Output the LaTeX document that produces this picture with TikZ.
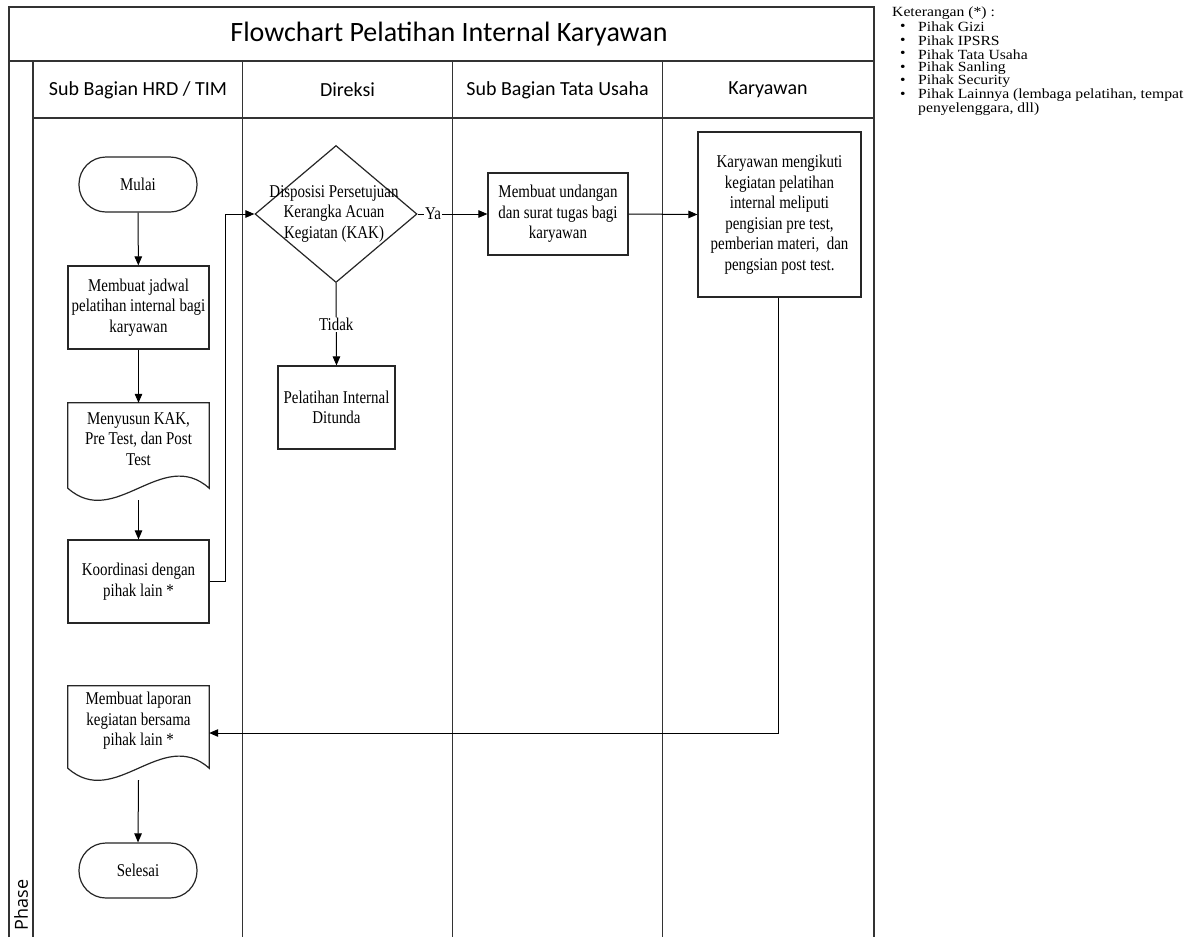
\documentclass[tikz,border=0pt]{standalone}
\usepackage{fontspec}
\setmainfont{Liberation Serif}
\newfontfamily\calfont{Carlito}
\newfontfamily\phasefont{Open Sans}
\newfontfamily\bodyf{Liberation Serif}[FakeStretch=0.83]
\newfontfamily\legf{Liberation Serif}[FakeStretch=1.12]
\usetikzlibrary{arrows.meta,shapes.geometric,calc}
\newcommand\bfnt{\bodyf\fontsize{18}{20.5}\selectfont}
\newcommand\lgfnt{\legf\fontsize{14}{13.7}\selectfont}
\begin{document}
\begin{tikzpicture}[x=1pt,y=-1pt,
  frame/.style={draw=black!80,line width=1.6pt},
  proc/.style={draw=black!85,line width=1.2pt,rectangle,inner sep=0pt,align=center,font=\bfnt},
  term/.style={proc,rounded corners=27pt,minimum width=118pt,minimum height=55pt},
  dec/.style={draw=black!85,line width=1.2pt,diamond,inner sep=0pt,minimum width=162pt,minimum height=137pt},
  docn/.style={rectangle,inner sep=0pt,minimum width=141pt},
  docline/.style={draw=black!85,line width=1.2pt},
  txt/.style={align=center,font=\bfnt,inner sep=0pt},
  lbl/.style={fill=white,font=\bfnt,inner sep=1pt},
  conn/.style={draw=black,line width=1pt,-{Triangle[length=9pt,width=7.5pt]}},
  leg/.style={anchor=west,font=\lgfnt,inner sep=0pt}
]
\useasboundingbox (0,0) rectangle (1198,938);
\fill[white] (0,0) rectangle (1198,938);

% swimlane frame
\draw[frame] (9,937) -- (9,7) -- (874,7) -- (874,937);
\draw[frame] (9,61) -- (874,61);
\draw[frame] (33,61) -- (33,937);
\draw[frame] (33,118) -- (874,118);
\draw[frame] (242.5,61) -- (242.5,937);
\draw[frame] (452.5,61) -- (452.5,937);
\draw[frame] (662.5,61) -- (662.5,937);

\node[font=\calfont\fontsize{28}{30}\selectfont] (title) at (449,34) {Flowchart Pelatihan Internal Karyawan};
\node[font=\calfont\fontsize{20}{22}\selectfont] (h1) at (138,90) {Sub Bagian HRD / TIM};
\node[font=\calfont\fontsize{20}{22}\selectfont] (h2) at (347.5,90) {Direksi};
\node[font=\calfont\fontsize{20}{22}\selectfont] (h3) at (557.5,90) {Sub Bagian Tata Usaha};
\node[font=\calfont\fontsize{20}{22}\selectfont] (h4) at (768,90) {Karyawan};
\node[font=\phasefont\fontsize{18}{20}\selectfont,rotate=90] (phase) at (21,905) {Phase};

% nodes
\node[term] (mulai) at (138,184.5) {Mulai};
\node[proc,minimum width=141pt,minimum height=83pt] (jadwal) at (138.5,307.5) {Membuat jadwal\\pelatihan internal bagi\\karyawan};

\node[docn,minimum height=85pt] (kak) at (138.5,445.5) {};
\draw[docline] (kak.north west) -- (kak.north east) -- (kak.south east)
  .. controls ($(kak.south east)+(-47,-42)$) and ($(kak.south west)+(47,42)$) .. (kak.south west) -- cycle;
\node[txt] (kaktxt) at (138.5,439) {Menyusun KAK,\\Pre Test, dan Post\\Test};

\node[proc,minimum width=141pt,minimum height=83pt] (koord) at (138.5,581.5) {Koordinasi dengan\\pihak lain *};

\node[docn,minimum height=82pt] (lap) at (138.5,727) {};
\draw[docline] (lap.north west) -- (lap.north east) -- (lap.south east)
  .. controls ($(lap.south east)+(-47,-42)$) and ($(lap.south west)+(47,42)$) .. (lap.south west) -- cycle;
\node[txt] (laptxt) at (138.5,721) {Membuat laporan\\kegiatan bersama\\pihak lain *};

\node[term] (selesai) at (138,870.5) {Selesai};

\node[dec] (disp) at (336,214) {};
\node[txt] (disptxt) at (334,213.5) {Disposisi Persetujuan\\Kerangka Acuan\\Kegiatan (KAK)};

\node[proc,minimum width=117pt,minimum height=83pt] (tunda) at (336.5,407.5) {Pelatihan Internal\\Ditunda};

\node[proc,minimum width=140pt,minimum height=82pt] (undang) at (558,214) {Membuat undangan\\dan surat tugas bagi\\karyawan};

\node[proc,minimum width=163pt,minimum height=165pt] (ikut) at (779.5,214.5) {Karyawan mengikuti\\kegiatan pelatihan\\internal meliputi\\pengisian pre test,\\pemberian materi,~ dan\\pengsian post test.};

\coordinate (c1) at (225,581.5);
\coordinate (c2) at (225,214);
\coordinate (c3) at (778,733);

% connectors
\draw[conn] (mulai) -- (jadwal);
\draw[conn] (jadwal) -- (kak);
\draw[conn] (kak.south) ++(0,12) -- (koord.north);
\draw[conn] (koord.east) -- (c1) -- (c2) -- (disp.west);
\draw[conn] (disp.east) -- node[lbl,pos=0.22] {Ya} (undang.west);
\draw[conn] (disp.south) -- node[lbl,pos=0.5] {Tidak} (tunda.north);
\draw[conn] (undang.east) -- (ikut.west);
\draw[conn] (ikut.south -| c3) -- (c3) -- (c3 -| lap.east);
\draw[conn] (lap.south) ++(0,12) -- (selesai.north);

% legend
\node[leg] (l0) at (892,13) {Keterangan (*) :};
\node[leg] (b1) at (900,27) {•}; \node[leg] (l1) at (918,27) {Pihak Gizi};
\node[leg] (b2) at (900,41) {•}; \node[leg] (l2) at (918,41) {Pihak IPSRS};
\node[leg] (b3) at (900,54.5) {•}; \node[leg] (l3) at (918,54.5) {Pihak Tata Usaha};
\node[leg] (b4) at (900,68) {•}; \node[leg] (l4) at (918,68) {Pihak Sanling};
\node[leg] (b5) at (900,81.5) {•}; \node[leg] (l5) at (918,81.5) {Pihak Security};
\node[leg] (b6) at (900,95) {•}; \node[leg] (l6) at (918,95) {Pihak Lainnya (lembaga pelatihan, tempat};
\node[leg] (l7) at (918,109) {penyelenggara, dll)};
\end{tikzpicture}
\end{document}
